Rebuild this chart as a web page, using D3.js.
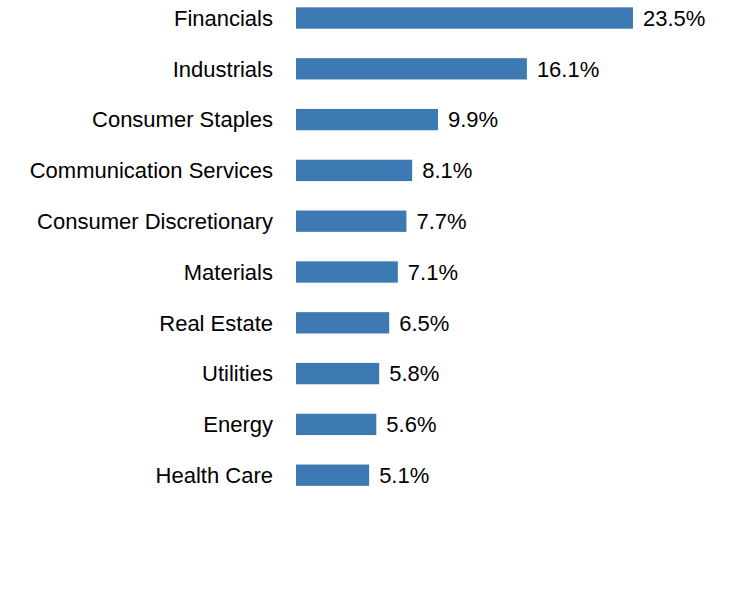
<!DOCTYPE html>
<html><head><meta charset="utf-8">
<script src="https://cdn.jsdelivr.net/npm/d3@7"></script>
<style>body{margin:0;background:#fff}</style></head>
<body><svg id="c" width="732" height="600"></svg>
<script>
const categories = ["Financials","Industrials","Consumer Staples","Communication Services","Consumer Discretionary","Materials","Real Estate","Utilities","Energy","Health Care"];
const values = [23.5,16.1,9.9,8.1,7.7,7.1,6.5,5.8,5.6,5.1];
const svg = d3.select("#c");
const x = d3.scaleLinear().domain([0,23.5]).range([296,633]);
const y = d3.scaleBand().domain(categories).range([-7.4,500.6]).paddingInner(0.58).paddingOuter(0.29);
const font = "Liberation Sans, Arial, sans-serif";
categories.forEach((c,i)=>{
  const yc = y(c)+y.bandwidth()/2;
  svg.append("rect").attr("x",x(0)).attr("y",y(c)).attr("width",x(values[i])-x(0)).attr("height",y.bandwidth()).attr("fill","#3d7ab3");
  svg.append("text").attr("x",273).attr("y",yc).attr("dy","0.35em").attr("text-anchor","end").attr("font-family",font).attr("font-size",22).attr("fill","#000").text(c);
  svg.append("text").attr("x",x(values[i])+10).attr("y",yc).attr("dy","0.35em").attr("font-family",font).attr("font-size",22).attr("fill","#000").text(values[i].toFixed(1)+"%");
});
</script></body></html>
